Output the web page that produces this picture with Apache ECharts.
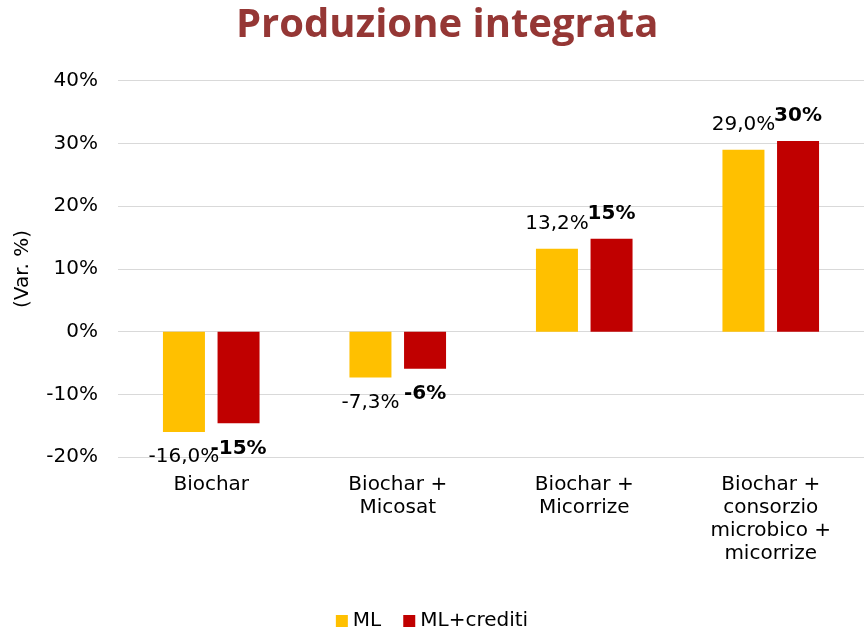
<!DOCTYPE html>
<html>
<head>
<meta charset="utf-8">
<script src="https://cdn.jsdelivr.net/npm/echarts@6/dist/echarts.min.js"></script>
<style>
  html, body { margin: 0; padding: 0; background: #fff; }
  #main { width: 864px; height: 634px; }
</style>
</head>
<body>
<div id="main"></div>
<script>
var categories = ['Biochar', 'Biochar +\nMicosat', 'Biochar +\nMicorrize', 'Biochar +\nconsorzio\nmicrobico +\nmicorrize'];
var mlValues = [-16.0, -7.3, 13.2, 29.0];
var creditiValues = [-14.6, -5.9, 14.8, 30.4];
var seriesNames = ['ML', 'ML+crediti'];
var yTicks = { min: -20, max: 40, step: 10 };

var myChart = echarts.init(document.getElementById('main'));

var baseFont = 'DejaVu Sans';

option = {
    animation: false,
    title: {
        text: 'Produzione integrata',
        left: 236,
        top: 6,
        padding: 0,
        textStyle: {
            fontFamily: 'Open Sans',
            fontWeight: 'bold',
            fontSize: 40,
            color: '#953735'
        }
    },
    legend: {
        data: seriesNames,
        left: 'center',
        top: 606,
        itemWidth: 12,
        itemHeight: 12,
        itemGap: 22,
        icon: 'rect',
        textStyle: {
            fontFamily: baseFont,
            fontSize: 20,
            color: '#000'
        }
    },
    grid: {
        left: 118,
        top: 80.7,
        width: 751,
        height: 376.5,
        containLabel: false
    },
    xAxis: {
        type: 'category',
        data: categories,
        axisLine: { show: false, onZero: false },
        axisTick: { show: false },
        axisLabel: {
            margin: 16,
            fontFamily: baseFont,
            fontSize: 20,
            lineHeight: 23,
            color: '#000',
            interval: 0
        }
    },
    yAxis: {
        type: 'value',
        min: yTicks.min,
        max: yTicks.max,
        interval: yTicks.step,
        name: '(Var. %)',
        nameLocation: 'middle',
        nameGap: 85,
        nameTextStyle: {
            fontFamily: baseFont,
            fontSize: 20,
            color: '#000'
        },
        axisLine: { show: false },
        axisTick: { show: false },
        splitLine: {
            lineStyle: { color: '#D9D9D9', width: 1 }
        },
        axisLabel: {
            margin: 20,
            fontFamily: baseFont,
            fontSize: 20,
            color: '#000',
            formatter: '{value}%'
        }
    },
    series: [{
        name: seriesNames[0],
        type: 'bar',
        barWidth: 42,
        barGap: '30%',
        itemStyle: { color: '#FFC000' },
        label: {
            show: true,
            position: 'outside',
            distance: 15,
            fontFamily: baseFont,
            fontSize: 20,
            color: '#000',
            formatter: function (p) {
                return p.value.toFixed(1).replace('.', ',') + '%';
            }
        },
        data: mlValues
    }, {
        name: seriesNames[1],
        type: 'bar',
        barWidth: 42,
        itemStyle: { color: '#C00000' },
        label: {
            show: true,
            position: 'outside',
            distance: 15,
            fontFamily: baseFont,
            fontWeight: 'bold',
            fontSize: 20,
            color: '#000',
            formatter: function (p) {
                return Math.round(p.value) + '%';
            }
        },
        data: creditiValues
    }]
};

myChart.setOption(option);
</script>
</body>
</html>
